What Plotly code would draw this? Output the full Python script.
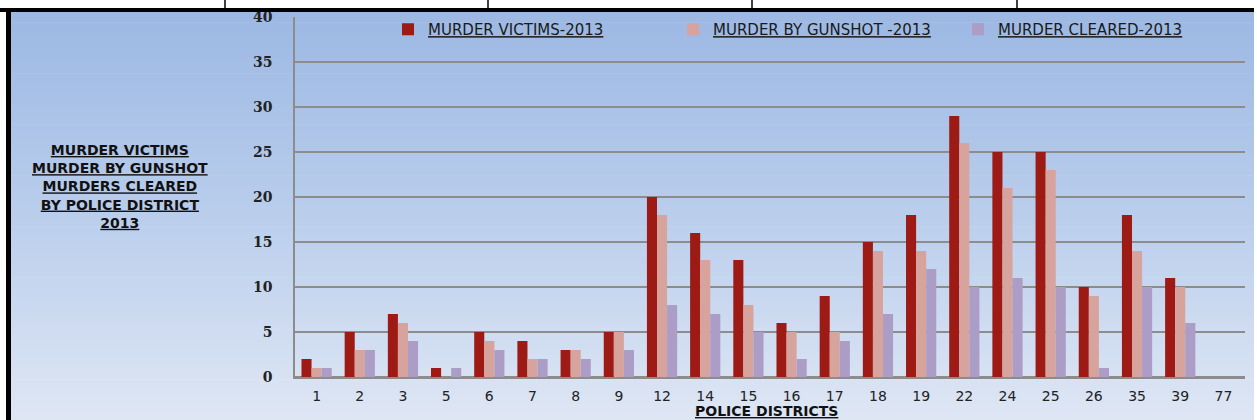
import plotly.graph_objects as go

districts = ["1", "2", "3", "5", "6", "7", "8", "9", "12", "14", "15", "16", "17",
             "18", "19", "22", "24", "25", "26", "35", "39", "77"]
victims = [2, 5, 7, 1, 5, 4, 3, 5, 20, 16, 13, 6, 9, 15, 18, 29, 25, 25, 10, 18, 11, 0]
gunshot = [1, 3, 6, 0, 4, 2, 3, 5, 18, 13, 8, 5, 5, 14, 14, 26, 21, 23, 9, 14, 10, 0]
cleared = [1, 3, 4, 1, 3, 2, 2, 3, 8, 7, 5, 2, 4, 7, 12, 10, 11, 10, 1, 10, 6, 0]
series_names = ["MURDER VICTIMS-2013", "MURDER BY GUNSHOT -2013", "MURDER CLEARED-2013"]
y_ticks = [0, 5, 10, 15, 20, 25, 30, 35, 40]

W, H = 1257, 420
L, R, T, B = 295, 1245, 17, 377


def px(x):
    return (x - L) / (R - L)


def py(y):
    return (B - y) / (B - T)


fig = go.Figure()
colors = ["#9e1a15", "#d6a49d", "#ab9dc6"]
for name, vals, c in zip(series_names, [victims, gunshot, cleared], colors):
    fig.add_trace(go.Bar(
        x=districts, y=vals, name="<u>" + name + "</u>",
        marker=dict(color=c, line=dict(width=0)),
    ))

shapes = []
# gradient background bands
top_c = (156, 184, 227)
mid_c = (186, 206, 236)
bot_c = (222, 230, 244)
n = 80
y0p, y1p = 12, 420
for i in range(n):
    t = i / (n - 1)
    if t < 0.5:
        u = t / 0.5
        c = tuple(round(top_c[k] + (mid_c[k] - top_c[k]) * u) for k in range(3))
    else:
        u = (t - 0.5) / 0.5
        c = tuple(round(mid_c[k] + (bot_c[k] - mid_c[k]) * u) for k in range(3))
    ya = y0p + (y1p - y0p) * i / n
    yb = y0p + (y1p - y0p) * (i + 1) / n + 0.6
    shapes.append(dict(type="rect", xref="paper", yref="paper", layer="below",
                       x0=px(11), x1=px(1254), y0=py(yb), y1=py(ya),
                       fillcolor="rgb(%d,%d,%d)" % c, line=dict(width=0)))
# frame
shapes.append(dict(type="rect", xref="paper", yref="paper", layer="above",
                   x0=px(0), x1=px(1254), y0=py(12), y1=py(8),
                   fillcolor="black", line=dict(width=0)))
shapes.append(dict(type="rect", xref="paper", yref="paper", layer="above",
                   x0=px(6), x1=px(11), y0=py(H + 2), y1=py(8),
                   fillcolor="black", line=dict(width=0)))
for xv in [225, 488, 752, 1017]:
    shapes.append(dict(type="line", xref="paper", yref="paper", layer="above",
                       x0=px(xv), x1=px(xv), y0=py(8), y1=py(-2),
                       line=dict(color="black", width=1.5)))

fig.update_layout(
    width=W, height=H,
    margin=dict(l=L, r=W - R, t=T, b=H - B, autoexpand=False),
    paper_bgcolor="white",
    plot_bgcolor="rgba(0,0,0,0)",
    barmode="group", bargap=0.3, bargroupgap=0,
    shapes=shapes,
    showlegend=True,
    legend=dict(orientation="h", x=px(388), y=py(13), xanchor="left", yanchor="top",
                bgcolor="rgba(0,0,0,0)",
                font=dict(family="DejaVu Sans", size=15, color="#1a1a1a"),
                itemwidth=30, entrywidth=240, entrywidthmode="pixels"),
    font=dict(family="DejaVu Sans", color="#1a1a1a"),
    xaxis=dict(type="category", tickfont=dict(family="DejaVu Sans", size=14, color="#222"),
               showgrid=False, showline=True, linecolor="#8c8c8c", linewidth=1.5,
               ticks="", ticklabelstandoff=5),
    yaxis=dict(range=[0, 40], tickvals=y_ticks, showgrid=True, gridcolor="#8c8c8c",
               gridwidth=1.5, zeroline=True, zerolinecolor="#8c8c8c", zerolinewidth=1.5,
               showline=True, linecolor="#8c8c8c", linewidth=1.5, ticks="",
               tickfont=dict(family="DejaVu Serif", size=14, color="#222", weight="bold"),
               ticklabelstandoff=18),
    annotations=[
        dict(text="<u>MURDER VICTIMS</u><br><u>MURDER BY GUNSHOT</u><br><u>MURDERS CLEARED</u><br>"
                  "<u>BY POLICE DISTRICT</u><br><u>2013</u>",
             xref="paper", yref="paper", x=px(120), y=py(186), xanchor="center", yanchor="middle",
             showarrow=False, align="center",
             font=dict(family="DejaVu Sans", size=14, color="#111", weight="bold")),
        dict(text="<u>POLICE DISTRICTS</u>", xref="paper", yref="paper",
             x=px(766), y=py(411), xanchor="center", yanchor="middle", showarrow=False,
             font=dict(family="DejaVu Sans", size=14, color="#111", weight="bold")),
    ],
)

fig.write_html("out.html", config={"displayModeBar": False},
               post_script="document.body.style.margin='0px';")
